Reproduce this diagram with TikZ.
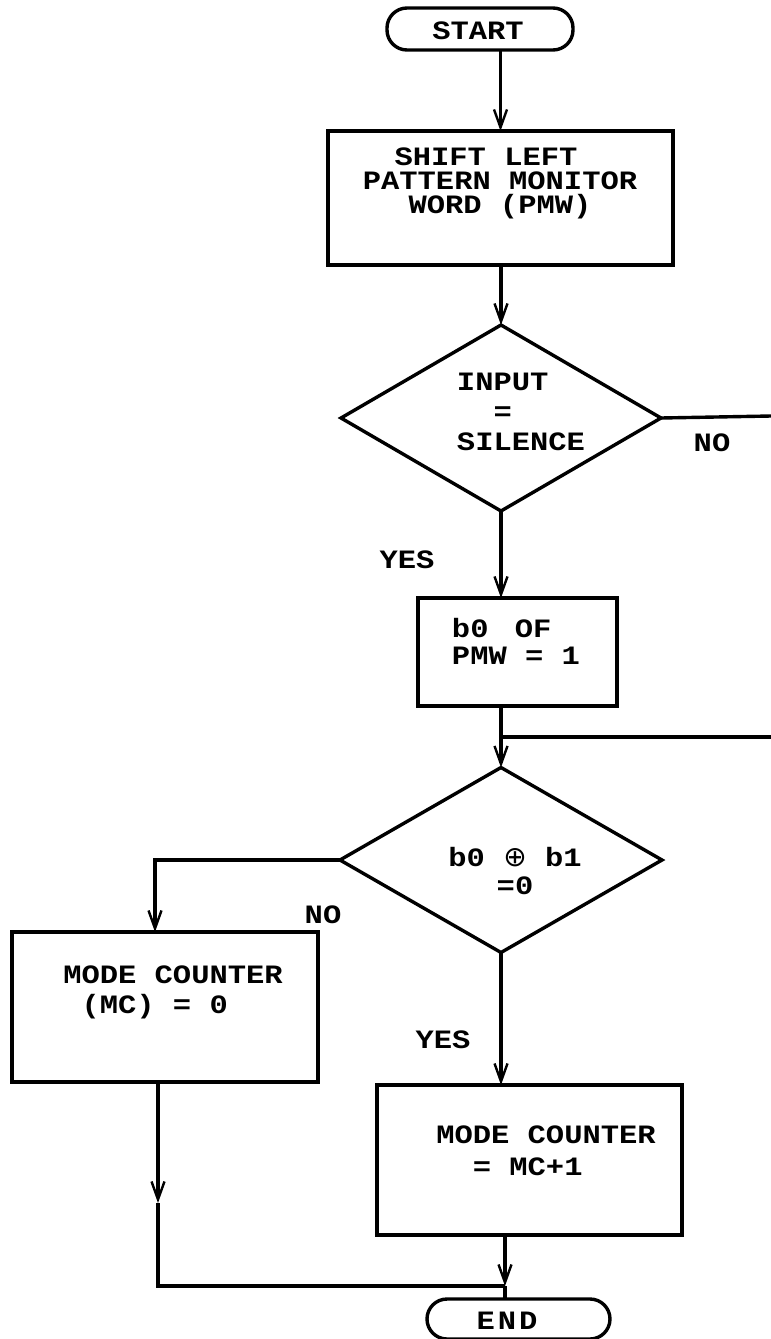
\documentclass[tikz,border=0pt]{standalone}
\usepackage{fontspec}
\newfontfamily\tw{Liberation Mono}[FakeStretch=1.15]
\newfontfamily\dv{DejaVu Sans}
\usetikzlibrary{shapes.geometric,arrows.meta}
\begin{document}
\begin{tikzpicture}[x=1pt,y=-1pt,
  line width=3.4pt,
  every node/.style={inner sep=0pt, outer sep=0pt},
  txt/.style={font=\tw\bfseries\fontsize{26.5}{#1}\selectfont},
  txt/.default=22,
  box/.style={draw, rectangle},
  term/.style={draw, rectangle, rounded corners=20pt},
  dec/.style={draw, diamond},
  arr/.style={-{Straight Barb[length=18pt,width=13pt,line width=2.4pt]}},
]
\useasboundingbox (0,0) rectangle (771,1339);

% terminals
\node[term, minimum width=186pt, minimum height=42pt] (start) at (480,29) {};
\node[txt] (starttxt) at (478,31) {START};
\node[term, minimum width=183pt, minimum height=40pt] (end) at (518.5,1319) {};
\node[txt] (endtxt) at (507,1321) {E\kern3pt N\kern3pt D};

% boxes
\node[box, minimum width=345pt, minimum height=134pt] (shift) at (500.5,198) {};
\node[txt=24, align=center] (shifttxt) at (500,183) {SHIFT LEFT\rule{28pt}{0pt}\\PATTERN MONITOR\\WORD (PMW)};

\node[box, minimum width=199pt, minimum height=108pt] (b0) at (517.5,652) {};
\node[txt=27, align=left] (b0txt) at (516,641) {b0\kern8pt{} OF\\PMW = 1};

\node[box, minimum width=306pt, minimum height=150pt] (mc0) at (165,1007) {};
\node[txt=30, align=left] (mc0txt) at (173,992) {MODE COUNTER\\\phantom{X}(MC) = 0};

\node[box, minimum width=305pt, minimum height=150pt] (mc1) at (529.5,1160) {};
\node[txt=32, align=left] (mc1txt) at (546,1151) {MODE COUNTER\\\phantom{XX}= MC+1};

% decisions
\node[dec, minimum width=320pt, minimum height=186pt] (d1) at (501,418) {};
\node[txt=30, align=left] (d1txt) at (521,412) {INPUT\\\phantom{XX}=\\SILENCE};

\node[dec, minimum width=322pt, minimum height=185pt] (d2) at (501,860) {};
\node[txt=28, align=center] (d2txt) at (515,871) {b0 {\dv\mdseries\fontsize{28}{28}\selectfont ⊕} b1\\=0};

% labels
\node[txt] (no1) at (712,443) {NO};
\node[txt] (yes1) at (407,560) {YES};
\node[txt] (no2) at (323,915) {NO};
\node[txt] (yes2) at (443,1040) {YES};

% coordinates
\coordinate (r1) at (771,416);
\coordinate (r2) at (771,737);
\coordinate (c1) at (155,860);
\coordinate (c2) at (158,1286);
\coordinate (m) at (158,1203);
\coordinate (j) at (505,1286);

% connectors
\draw[arr] (start.south -| shift.north) -- (shift.north);
\draw[arr] (shift.south -| d1.north) -- (d1.north);
\draw (d1.east) -- (r1);
\draw[arr] (d1.south) -- (d1.south |- b0.north);
\draw[arr] (b0.south -| d2.north) -- (d2.north);
\draw (r2) -- (r2 -| d2.north);
\draw[arr] (d2.west) -- (c1) -- (c1 |- mc0.north);
\draw[arr] (d2.south) -- (d2.south |- mc1.north);
\draw[arr] (mc0.south -| m) -- (m);
\draw (m) -- (c2) -- (j);
\draw[arr] (mc1.south -| j) -- (j);
\draw (j) -- (end.north -| j);
\end{tikzpicture}
\end{document}
